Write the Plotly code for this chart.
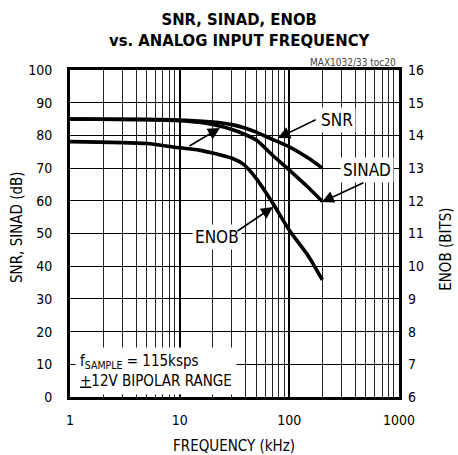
import math
import plotly.graph_objects as go

# ---- data ----
snr_freq = [1, 5, 10, 20, 30, 40, 50, 70, 100, 150, 200]
snr_db = [85.0, 84.9, 84.7, 84.1, 83.3, 82.2, 81.0, 78.8, 76.5, 73.0, 70.0]

sinad_freq = [1, 5, 10, 15, 20, 30, 40, 50, 70, 100, 150, 200]
sinad_db = [85.0, 84.8, 84.5, 84.0, 83.3, 81.8, 80.2, 78.6, 74.0, 69.4, 64.0, 59.8]

enob_freq = [1, 5, 10, 15, 20, 30, 38, 50, 70, 100, 150, 200]
enob_bits = [13.81, 13.75, 13.62, 13.55, 13.46, 13.3, 13.12, 12.68, 11.95, 11.1, 10.3, 9.58]

x_tickvals = [1, 10, 100, 1000]
x_ticktext = ["1", "10", "100", "1000"]
y_left_ticks = list(range(0, 101, 10))
y_right_ticks = list(range(6, 17))

FONT = "DejaVu Sans Condensed, Liberation Sans, sans-serif"

fig = go.Figure()
line_style = dict(color="black", width=3.6, shape="spline", smoothing=0.6)
fig.add_trace(go.Scatter(x=snr_freq, y=snr_db, mode="lines", line=line_style,
                         name="SNR", hoverinfo="skip"))
fig.add_trace(go.Scatter(x=sinad_freq, y=sinad_db, mode="lines", line=line_style,
                         name="SINAD", hoverinfo="skip"))
fig.add_trace(go.Scatter(x=enob_freq, y=enob_bits, mode="lines", line=line_style,
                         name="ENOB", yaxis="y2", hoverinfo="skip"))

fig.update_layout(
    width=458, height=455,
    margin=dict(l=70, r=59, t=70, b=58),
    paper_bgcolor="white", plot_bgcolor="white",
    showlegend=False,
    font=dict(family=FONT, size=15, color="black"),
    xaxis=dict(
        type="log", range=[0, 3],
        tickvals=x_tickvals, ticktext=x_ticktext,
        showgrid=True, gridcolor="black", gridwidth=1.8,
        minor=dict(dtick="D1", showgrid=True, gridcolor="#222", gridwidth=1, ticks=""),
        showline=True, linecolor="black", linewidth=3, mirror=True,
        ticks="", zeroline=False, ticklabelstandoff=8,
        tickfont=dict(size=14), automargin=False,
    ),
    yaxis=dict(
        range=[0, 100], tickvals=y_left_ticks,
        showgrid=True, gridcolor="black", gridwidth=1.4,
        showline=True, linecolor="black", linewidth=3, mirror=True,
        ticks="", zeroline=False, ticklabelstandoff=12,
        tickfont=dict(size=14), automargin=False,
    ),
    yaxis2=dict(
        range=[6, 16], tickvals=y_right_ticks, overlaying="y", side="right",
        showgrid=False, zeroline=False, ticks="", ticklabelstandoff=8,
        tickfont=dict(size=14), automargin=False,
    ),
)

L = math.log10
ann = []
# titles
ann.append(dict(xref="paper", yref="paper", x=0.5, y=1.0, yshift=40, xshift=5,
                xanchor="center", yanchor="middle",
                text="<b>SNR, SINAD, ENOB<br>vs. ANALOG INPUT FREQUENCY</b>",
                showarrow=False, font=dict(size=16.5)))
ann.append(dict(xref="paper", yref="paper", x=1.0, y=1.0, yshift=8, xshift=-1,
                xanchor="right", yanchor="middle", text="MAX1032/33 toc20",
                showarrow=False, font=dict(size=10, color="#444")))
# axis titles
ann.append(dict(xref="paper", yref="paper", x=0.5, y=0, yshift=-49, xshift=-1,
                xanchor="center", yanchor="middle",
                text="FREQUENCY (kHz)", showarrow=False, font=dict(size=15)))
ann.append(dict(xref="paper", yref="y", x=0, xshift=-53, y=52,
                xanchor="center", yanchor="middle",
                text="SNR, SINAD (dB)", textangle=-90, showarrow=False, font=dict(size=15)))
ann.append(dict(xref="paper", yref="y", x=1, xshift=47, y=45,
                xanchor="center", yanchor="middle",
                text="ENOB (BITS)", textangle=-90, showarrow=False, font=dict(size=15)))
# curve labels with white background
lab = dict(showarrow=False, bgcolor="white", borderpad=2, font=dict(size=17))
ann.append(dict(x=L(274), y=84.6, text="SNR", **lab))
ann.append(dict(x=L(510), y=69.4, text="SINAD", **lab))
ann.append(dict(x=L(22), y=48.8, text="ENOB", **lab))
ann.append(dict(x=L(1.1), y=8.0, xanchor="left", align="left", yanchor="middle",
                text="f<sub>SAMPLE</sub> = 115ksps<br><u>+</u>12V BIPOLAR RANGE",
                showarrow=False, bgcolor="white", borderpad=4, font=dict(size=15)))
# arrows
arr = dict(text="", showarrow=True, arrowhead=2, arrowsize=1.5, arrowwidth=1.6,
           arrowcolor="black")
ann.append(dict(x=L(79), y=79.2, ax=39, ay=-19, **arr))
ann.append(dict(x=L(198), y=59.6, ax=43, ay=-20, **arr))
ann.append(dict(x=L(71), y=58.1, ax=-37, ay=25, **arr))
ann.append(dict(x=L(23.3), y=82.3, ax=-32, ay=19, **arr))
fig.update_layout(annotations=ann)

fig.write_html("out.html", config={"displayModeBar": False},
               post_script="document.body.style.margin='0';document.body.style.padding='0';")
